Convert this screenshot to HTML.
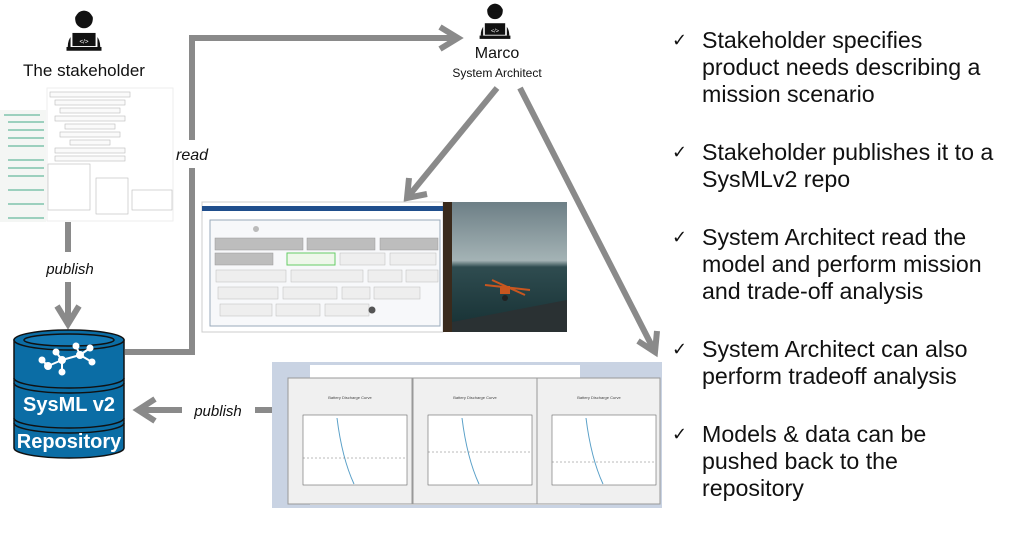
<!DOCTYPE html>
<html><head><meta charset="utf-8"><style>
html,body{margin:0;padding:0;background:#fff;}
body{width:1024px;height:528px;position:relative;overflow:hidden;font-family:"Liberation Sans",Arial,sans-serif;}
.list{position:absolute;left:672px;top:27px;font-size:23.2px;line-height:27px;color:#111;}
.item{position:relative;padding-left:30px;margin-bottom:31px;white-space:nowrap;}
.item:before{content:"✓";position:absolute;left:0;top:0;font-family:"DejaVu Sans",sans-serif;font-size:18px;}
</style></head><body>
<svg width="1024" height="528" style="position:absolute;left:0;top:0" xmlns="http://www.w3.org/2000/svg" font-family="Liberation Sans, Arial, sans-serif">
<defs>
<g id="person">
<circle cx="0" cy="-6" r="7" fill="#111"/>
<path d="M-7,-8 q7,-10 14,0 v2 h-14z" fill="#111"/>
<path d="M-13,16 q0,-12 13,-12 q13,0 13,12z" fill="#111"/>
<rect x="-10" y="4" width="20" height="12" fill="#111" stroke="#fff" stroke-width="1.5"/>
<rect x="-14" y="16" width="28" height="3" fill="#111"/>
<text x="0" y="13" font-size="5" fill="#fff" text-anchor="middle">&lt;/&gt;</text>
</g>
</defs>
<use href="#person" transform="translate(84,27) scale(1.25)"/>
<text x="84" y="76" font-size="17" text-anchor="middle" fill="#111">The stakeholder</text>
<rect x="0" y="110" width="46" height="112" fill="#f4f6f4"/>
<g stroke="#4a8" stroke-width="1">
<line x1="4" y1="115" x2="40" y2="115"/><line x1="8" y1="122" x2="44" y2="122"/><line x1="8" y1="130" x2="44" y2="130"/><line x1="8" y1="138" x2="44" y2="138"/><line x1="8" y1="146" x2="44" y2="146"/><line x1="8" y1="160" x2="44" y2="160"/><line x1="8" y1="168" x2="44" y2="168"/><line x1="8" y1="176" x2="44" y2="176"/><line x1="8" y1="190" x2="44" y2="190"/><line x1="8" y1="204" x2="44" y2="204"/><line x1="8" y1="218" x2="44" y2="218"/>
</g>
<rect x="47" y="88" width="126" height="133" fill="#fff" stroke="#eee"/>
<g fill="#fafafa" stroke="#bbb" stroke-width="0.6">
<rect x="50" y="92" width="80" height="5"/><rect x="55" y="100" width="70" height="5"/><rect x="60" y="108" width="60" height="5"/><rect x="55" y="116" width="70" height="5"/><rect x="65" y="124" width="50" height="5"/><rect x="60" y="132" width="60" height="5"/><rect x="70" y="140" width="40" height="5"/><rect x="55" y="148" width="70" height="5"/><rect x="55" y="156" width="70" height="5"/>
<rect x="48" y="164" width="42" height="46" fill="none"/><rect x="96" y="178" width="32" height="36" fill="none"/><rect x="132" y="190" width="40" height="20" fill="none"/>
</g>
<line x1="68" y1="222" x2="68" y2="252" stroke="#8a8a8a" stroke-width="6"/>
<text x="70" y="274" font-size="15" font-style="italic" text-anchor="middle" fill="#111">publish</text>
<line x1="68" y1="282" x2="68" y2="324" stroke="#8a8a8a" stroke-width="6"/>
<polyline points="57,306 68,324 79,306" fill="none" stroke="#8a8a8a" stroke-width="6"/>
<polyline points="125,352 192,352 192,168" fill="none" stroke="#8a8a8a" stroke-width="6"/>
<text x="192" y="160" font-size="16" font-style="italic" text-anchor="middle" fill="#111">read</text>
<polyline points="192,140 192,38 458,38" fill="none" stroke="#8a8a8a" stroke-width="6"/>
<polyline points="440,27 458,38 440,49" fill="none" stroke="#8a8a8a" stroke-width="6"/>
<g stroke="#111" stroke-width="1.5">
<path d="M14,340 v108 a55,10 0 0 0 110,0 v-108z" fill="#0b6da5"/>
<ellipse cx="69" cy="340" rx="55" ry="10" fill="#0b6da5"/>
<ellipse cx="69" cy="340" rx="45" ry="6" fill="#1479b4"/>
<path d="M14,378 a55,10 0 0 0 110,0" fill="none"/>
<path d="M14,383 a55,10 0 0 0 110,0" fill="none"/>
<path d="M14,418 a55,10 0 0 0 110,0" fill="none"/>
<path d="M14,423 a55,10 0 0 0 110,0" fill="none"/>
</g>
<g stroke="#fff" stroke-width="2" fill="#fff">
<line x1="48" y1="366" x2="62" y2="360"/><line x1="62" y1="360" x2="80" y2="355"/><line x1="80" y1="355" x2="90" y2="348"/><line x1="80" y1="355" x2="92" y2="362"/><line x1="80" y1="355" x2="76" y2="346"/><line x1="62" y1="360" x2="56" y2="352"/><line x1="62" y1="360" x2="62" y2="372"/><line x1="48" y1="366" x2="42" y2="360"/>
<circle cx="48" cy="366" r="3"/><circle cx="62" cy="360" r="3"/><circle cx="80" cy="355" r="3"/><circle cx="90" cy="348" r="2.5"/><circle cx="92" cy="362" r="2.5"/><circle cx="76" cy="346" r="2.5"/><circle cx="56" cy="352" r="2.5"/><circle cx="62" cy="372" r="2.5"/><circle cx="42" cy="360" r="2.5"/>
</g>
<text x="69" y="411" font-size="20" font-weight="bold" text-anchor="middle" fill="#fff">SysML v2</text>
<text x="69" y="448" font-size="20" font-weight="bold" text-anchor="middle" fill="#fff">Repository</text>
<line x1="272" y1="410" x2="255" y2="410" stroke="#8a8a8a" stroke-width="6"/>
<text x="218" y="416" font-size="15" font-style="italic" text-anchor="middle" fill="#111">publish</text>
<line x1="182" y1="410" x2="138" y2="410" stroke="#8a8a8a" stroke-width="6"/>
<polyline points="155,399 138,410 155,421" fill="none" stroke="#8a8a8a" stroke-width="6"/>
<use href="#person" transform="translate(495,18) scale(1.1)"/>
<text x="497" y="58" font-size="16" text-anchor="middle" fill="#111">Marco</text>
<text x="497" y="77" font-size="12" text-anchor="middle" fill="#111">System Architect</text>
<line x1="497" y1="88" x2="407" y2="198" stroke="#8a8a8a" stroke-width="6"/>
<polyline points="409,178 407,198 427,194" fill="none" stroke="#8a8a8a" stroke-width="6"/>
<line x1="520" y1="88" x2="655" y2="352" stroke="#8a8a8a" stroke-width="6"/>
<polyline points="638,341 655,352 657,331" fill="none" stroke="#8a8a8a" stroke-width="6"/>
<rect x="202" y="202" width="241" height="130" fill="#fff" stroke="#ccc"/>
<rect x="202" y="206" width="241" height="5" fill="#1f4e8c"/>
<rect x="210" y="220" width="230" height="106" fill="#f7f8fa" stroke="#9ab"/>
<g fill="#bdbdbd" stroke="#999" stroke-width="0.5">
<rect x="215" y="238" width="88" height="12"/><rect x="307" y="238" width="68" height="12"/><rect x="380" y="238" width="58" height="12"/>
<rect x="215" y="253" width="58" height="12"/>
</g>
<rect x="287" y="253" width="48" height="12" fill="#eef7ea" stroke="#6c6" stroke-width="1"/>
<g fill="#eee" stroke="#bbb" stroke-width="0.5">
<rect x="340" y="253" width="45" height="12"/><rect x="390" y="253" width="46" height="12"/>
<rect x="216" y="270" width="70" height="12"/><rect x="291" y="270" width="72" height="12"/><rect x="368" y="270" width="34" height="12"/><rect x="406" y="270" width="32" height="12"/>
<rect x="218" y="287" width="60" height="12"/><rect x="283" y="287" width="54" height="12"/><rect x="342" y="287" width="28" height="12"/><rect x="374" y="287" width="46" height="12"/>
<rect x="220" y="304" width="52" height="12"/><rect x="276" y="304" width="44" height="12"/><rect x="325" y="304" width="44" height="12"/>
</g>
<circle cx="256" cy="229" r="3" fill="#bbb"/><circle cx="372" cy="310" r="3.5" fill="#555"/>
<defs><linearGradient id="sky" x1="0" y1="0" x2="0" y2="1"><stop offset="0" stop-color="#6d7f86"/><stop offset="0.45" stop-color="#a4b3b5"/><stop offset="0.5" stop-color="#2f4c50"/><stop offset="1" stop-color="#163033"/></linearGradient></defs>
<rect x="443" y="202" width="124" height="130" fill="url(#sky)"/>
<rect x="443" y="202" width="9" height="130" fill="#3a2a1c"/>
<path d="M452,322 L567,300 L567,332 L452,332z" fill="#2a3133"/>
<g stroke="#c9561f" stroke-width="2"><line x1="485" y1="285" x2="530" y2="290"/><line x1="492" y1="280" x2="525" y2="295"/></g>
<rect x="500" y="286" width="10" height="8" fill="#c9561f"/><circle cx="505" cy="298" r="3" fill="#222"/>
<rect x="272" y="362" width="390" height="146" fill="#c9d3e3"/>
<rect x="310" y="365" width="270" height="140" fill="#fff"/>
<g>
<rect x="288" y="378" width="124" height="126" fill="#f0f0f0" stroke="#999"/>
<rect x="413" y="378" width="124" height="126" fill="#f0f0f0" stroke="#999"/>
<rect x="537" y="378" width="123" height="126" fill="#f0f0f0" stroke="#999"/>
</g>
<g fill="#fff" stroke="#666" stroke-width="0.6">
<rect x="303" y="415" width="104" height="70"/><rect x="428" y="415" width="104" height="70"/><rect x="552" y="415" width="104" height="70"/>
</g>
<g fill="none" stroke="#5aa0c8" stroke-width="1">
<path d="M337,418 q5,40 17,66"/><path d="M462,418 q5,40 17,66"/><path d="M586,418 q5,40 17,66"/>
</g>
<g stroke="#777" stroke-width="0.5" stroke-dasharray="2,2">
<line x1="303" y1="458" x2="407" y2="458"/><line x1="428" y1="452" x2="532" y2="452"/><line x1="552" y1="462" x2="656" y2="462"/>
</g>
<g fill="#444" font-size="4" text-anchor="middle">
<text x="350" y="399">Battery Discharge Curve</text><text x="475" y="399">Battery Discharge Curve</text><text x="599" y="399">Battery Discharge Curve</text>
</g>
</svg>
<div class="list">
<div class="item">Stakeholder specifies<br>product needs describing a<br>mission scenario</div>
<div class="item">Stakeholder publishes it to a<br>SysMLv2 repo</div>
<div class="item">System Architect read the<br>model and perform mission<br>and trade-off analysis</div>
<div class="item">System Architect can also<br>perform tradeoff analysis</div>
<div class="item">Models &amp; data can be<br>pushed back to the<br>repository</div>
</div>
</body></html>
